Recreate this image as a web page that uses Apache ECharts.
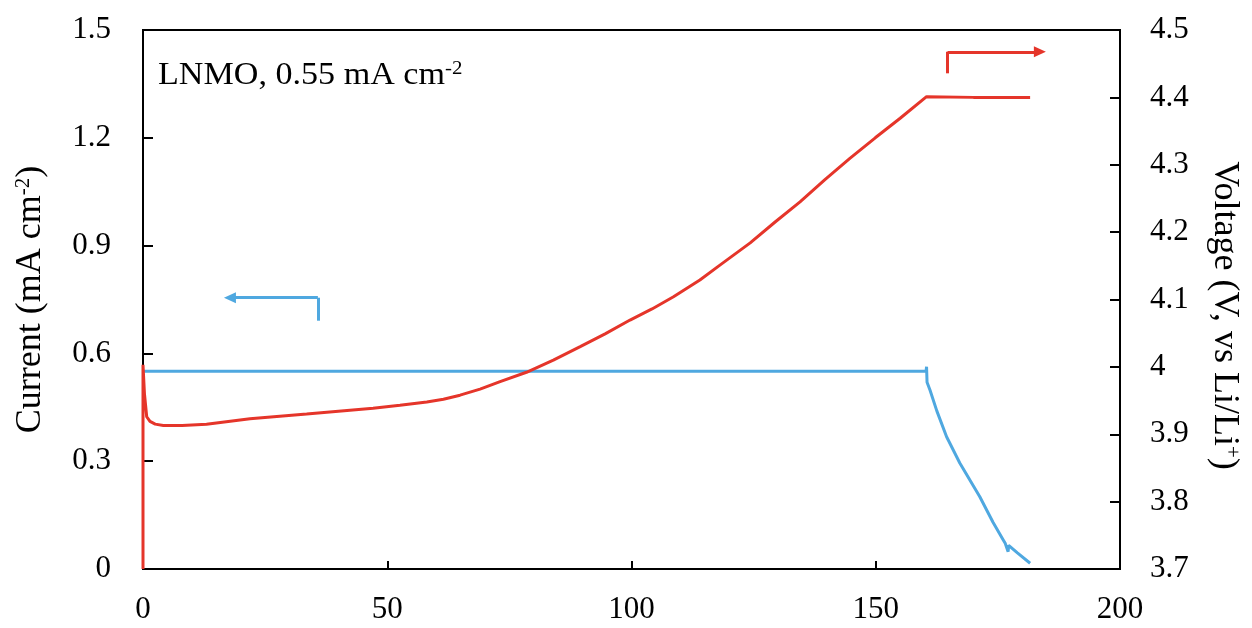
<!DOCTYPE html>
<html>
<head>
<meta charset="utf-8">
<script src="https://cdn.jsdelivr.net/npm/echarts@6/dist/echarts.min.js"></script>
<style>
html,body{margin:0;padding:0;background:#fff;}
#chart{width:1252px;height:628px;}
</style>
</head>
<body>
<div id="chart"></div>
<script>
// ---- data ----
const voltageTime = [0, 0, 0.3, 0.76, 1.43, 2.5, 4.16, 8, 13, 21.9, 33.5, 47.1, 52.6, 58.1, 61.5, 64.9, 69.0, 73.1, 78.5, 84.0, 89.5, 94.6, 99.7, 104.2, 108.6, 114.0, 118.1, 124.3, 129.4, 134.5, 139.6, 144.7, 149.9, 155.0, 160.4, 170, 181.6];
const voltage     = [3.7, 4.003, 3.96, 3.926, 3.919, 3.915, 3.913, 3.913, 3.915, 3.923, 3.930, 3.9385, 3.943, 3.948, 3.952, 3.958, 3.967, 3.978, 3.992, 4.010, 4.030, 4.049, 4.0695, 4.086, 4.104, 4.129, 4.151, 4.184, 4.215, 4.245, 4.278, 4.3095, 4.340, 4.369, 4.401, 4.400, 4.400];
const currentTime = [0, 80, 160.3, 160.4, 160.5, 161.1, 162.5, 164.5, 167.2, 171.3, 174.0, 176.1, 176.5, 177.1, 177.2, 179.0, 181.6];
const current     = [0.55, 0.55, 0.55, 0.563, 0.52, 0.498, 0.44, 0.368, 0.295, 0.201, 0.13, 0.081, 0.0715, 0.048, 0.066, 0.045, 0.016];
const xTicks = {min: 0, max: 200, interval: 50};
const currentTicks = {min: 0, max: 1.5, interval: 0.3};
const voltageTicks = {min: 3.7, max: 4.5, interval: 0.1};
const annotation = 'LNMO, 0.55 mA cm';
// arrow annotations in data coordinates
const currentArrow = [[35.8, 0.691], [35.8, 0.755], [17.8, 0.755]];
const voltageArrow = [[164.7, 4.4357], [164.7, 4.4677], [183.6, 4.4677]];

const RED = '#E5352A';
const BLUE = '#4FA8E0';
const FONT = 'Liberation Serif';

const chart = echarts.init(document.getElementById('chart'), null, {renderer: 'canvas'});

function pairs(xs, ys) { return xs.map((x, i) => [x, ys[i]]); }

function arrowMarkLine(pts, color) {
  return {
    silent: true,
    animation: false,
    lineStyle: {color: color, width: 3, type: 'solid'},
    label: {show: false},
    symbolSize: [11, 12],
    data: [
      [{coord: pts[0], symbol: 'none'}, {coord: pts[1], symbol: 'none'}],
      [{coord: pts[1], symbol: 'none'}, {coord: pts[2], symbol: 'triangle'}]
    ]
  };
}

const supStyle = {fontSize: 21, fontFamily: FONT, color: '#000', verticalAlign: 'top', lineHeight: 21, padding: [0, 0, 12, 0]};

const option = {
  animation: false,
  backgroundColor: '#ffffff',
  textStyle: {fontFamily: FONT},
  grid: {left: 143, right: 132, top: 30, bottom: 59, show: true, borderColor: '#000', borderWidth: 2, containLabel: false},
  xAxis: {
    type: 'value', min: xTicks.min, max: xTicks.max, interval: xTicks.interval,
    axisLine: {show: true, onZero: false, lineStyle: {color: '#000', width: 2}},
    axisTick: {show: true, inside: true, length: 8, lineStyle: {color: '#000', width: 2}},
    axisLabel: {color: '#000', fontSize: 31, fontFamily: FONT, margin: 25},
    splitLine: {show: false}
  },
  yAxis: [
    {
      type: 'value', position: 'left', min: currentTicks.min, max: currentTicks.max, interval: currentTicks.interval,
      axisLine: {show: true, lineStyle: {color: '#000', width: 2}},
      axisTick: {show: true, inside: true, length: 10, lineStyle: {color: '#000', width: 2}},
      axisLabel: {color: '#000', fontSize: 31, fontFamily: FONT, margin: 32,
        formatter: v => String(parseFloat(v.toFixed(1)))},
      splitLine: {show: false},
      name: 'Current (mA cm{sup|-2})',
      nameLocation: 'middle', nameGap: 94, nameRotate: 90,
      nameTextStyle: {color: '#000', fontSize: 36, fontFamily: FONT, rich: {sup: supStyle}}
    },
    {
      type: 'value', position: 'right', min: voltageTicks.min, max: voltageTicks.max, interval: voltageTicks.interval,
      axisLine: {show: true, lineStyle: {color: '#000', width: 2}},
      axisTick: {show: true, inside: true, length: 10, lineStyle: {color: '#000', width: 2}},
      axisLabel: {color: '#000', fontSize: 31, fontFamily: FONT, margin: 30,
        formatter: v => String(parseFloat(v.toFixed(1)))},
      splitLine: {show: false},
      name: 'Voltage (V, vs Li/Li{sup|+})',
      nameLocation: 'middle', nameGap: 86, nameRotate: -90,
      nameTextStyle: {color: '#000', fontSize: 36, fontFamily: FONT, padding: [0, 0, 0, 32], rich: {sup: supStyle}}
    }
  ],
  graphic: [
    {
      type: 'text', x: 158, y: 60, scaleX: 1.1, scaleY: 1, z: 100,
      style: {
        text: annotation + '{sup|-2}',
        fill: '#000', font: '31px "Liberation Serif"',
        rich: {sup: {fontSize: 19, fontFamily: FONT, fill: '#000', verticalAlign: 'top', lineHeight: 19, padding: [0, 0, 11, 0]}}
      }
    }
  ],
  series: [
    {
      name: 'Current', type: 'line', yAxisIndex: 0, showSymbol: false, symbol: 'none',
      data: pairs(currentTime, current),
      lineStyle: {color: BLUE, width: 3}, itemStyle: {color: BLUE},
      markLine: arrowMarkLine(currentArrow, BLUE),
      z: 2
    },
    {
      name: 'Voltage', type: 'line', yAxisIndex: 1, showSymbol: false, symbol: 'none',
      data: pairs(voltageTime, voltage),
      lineStyle: {color: RED, width: 3}, itemStyle: {color: RED},
      markLine: arrowMarkLine(voltageArrow, RED),
      z: 3
    }
  ]
};
chart.setOption(option);
</script>
</body>
</html>
